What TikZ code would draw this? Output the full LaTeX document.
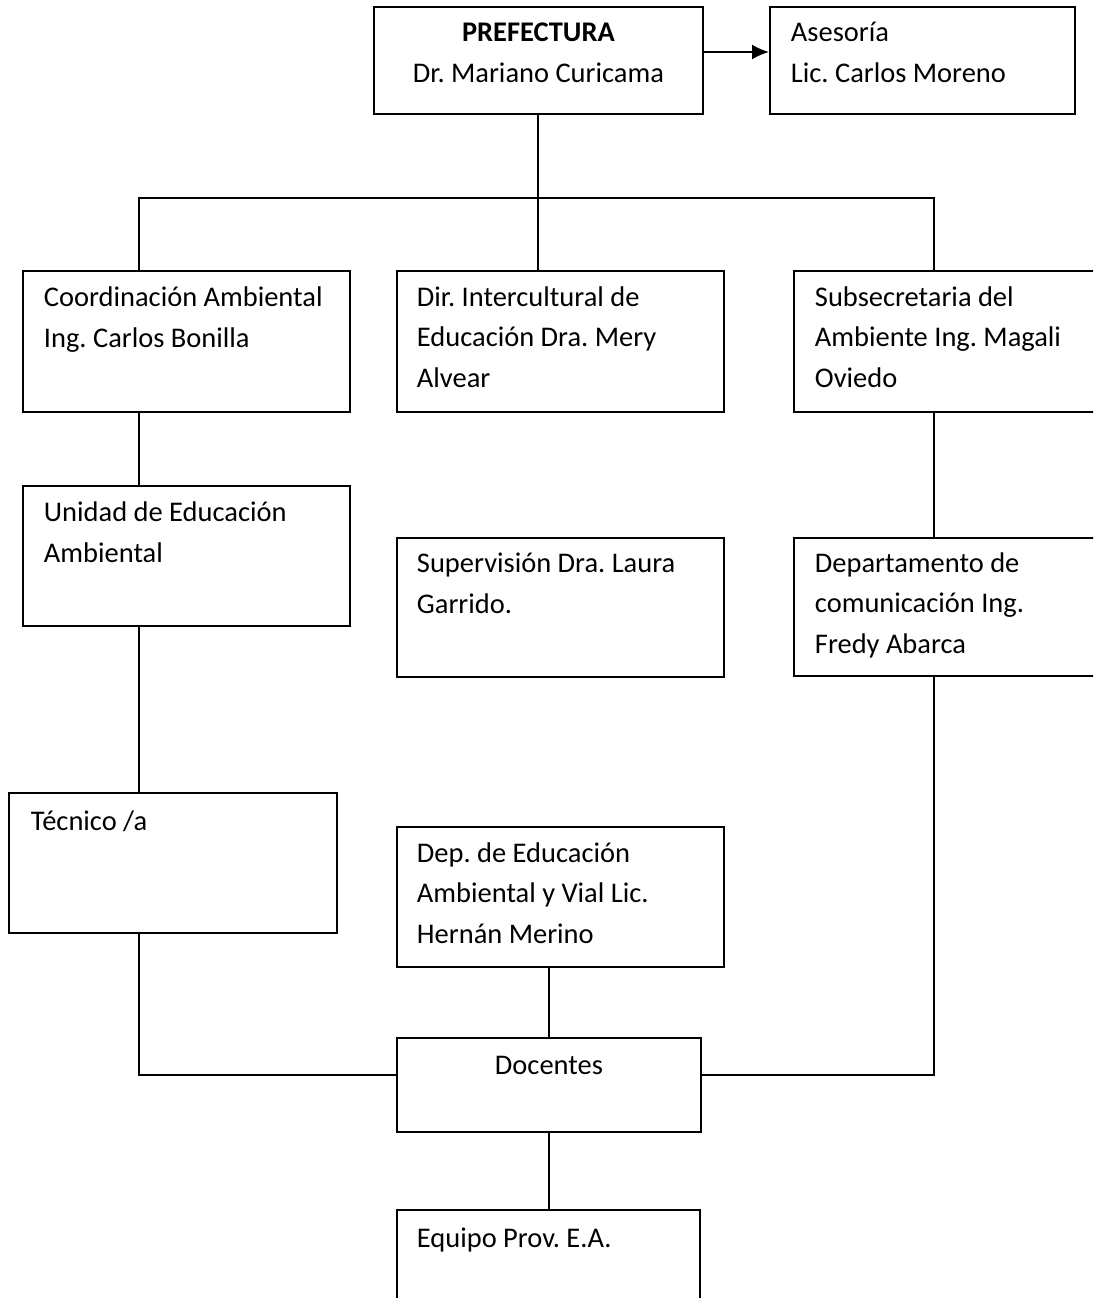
\documentclass[tikz,border=0pt]{standalone}
\usepackage{fontspec}
\setmainfont{Carlito}
\frenchspacing
\usepackage{tikz}
\usetikzlibrary{calc}
\usetikzlibrary{arrows.meta}

\begin{document}
\begin{tikzpicture}[
      x=0.02cm, y=-0.02cm,
      line width=1.1pt,
      caja/.style={draw, rectangle, anchor=north west, inner sep=0pt, minimum width=6.54cm, minimum height=2.8cm},
      texto/.style={anchor=base west, inner sep=0pt, align=left, font=\fontsize{16.2}{22.8}\selectfont},
      flecha/.style={-{Latex[length=0.34cm, width=0.3cm]}}
    ]
    \useasboundingbox (0,0) rectangle (1093,1298);
    \clip (0,0) rectangle (1093,1298);

    % Cajas
    \node[caja, minimum width=6.58cm, minimum height=2.14cm] (pref) at (373,6) {};
    \node[caja, minimum width=6.1cm, minimum height=2.14cm] (ases) at (769,6) {};
    \node[caja, minimum height=2.82cm] (coord) at (22,270) {};
    \node[caja, minimum height=2.82cm] (dir) at (396,270) {};
    \node[caja, minimum width=7cm, minimum height=2.82cm] (subse) at (793,270) {};
    \node[caja] (unidad) at (22,485) {};
    \node[caja, minimum height=2.78cm] (superv) at (396,537) {};
    \node[caja, minimum width=7cm, minimum height=2.76cm] (depto) at (793,537) {};
    \node[caja, minimum width=6.56cm] (tecnico) at (8,792) {};
    \node[caja] (depedu) at (396,826) {};
    \node[caja, minimum width=6.08cm, minimum height=1.88cm] (doc) at (396,1037) {};
    \node[caja, minimum width=6.06cm] (equipo) at (396,1209) {};

    % Textos (base = ultima linea)
    \node[texto, anchor=base, align=center] (pref-t) at ($(pref.north)+(0,76)$) {\textbf{PREFECTURA}\\Dr. Mariano Curicama};
    \node[texto] (ases-t) at ($(ases.north west)+(21,76)$) {Asesoría\\Lic. Carlos Moreno};
    \node[texto] (coord-t) at ($(coord.north west)+(21,77)$) {Coordinación Ambiental\\Ing. Carlos Bonilla};
    \node[texto] (dir-t) at ($(dir.north west)+(20,117)$) {Dir. Intercultural de\\Educación Dra. Mery\\Alvear};
    \node[texto] (subse-t) at ($(subse.north west)+(21,117)$) {Subsecretaria del\\Ambiente Ing. Magali\\Oviedo};
    \node[texto] (unidad-t) at ($(unidad.north west)+(21,77)$) {Unidad de Educación\\Ambiental};
    \node[texto] (superv-t) at ($(superv.north west)+(20,76)$) {Supervisión Dra. Laura\\Garrido.};
    \node[texto] (depto-t) at ($(depto.north west)+(21,116)$) {Departamento de\\comunicación Ing.\\Fredy Abarca};
    \node[texto] (tecnico-t) at ($(tecnico.north west)+(22,38)$) {Técnico /a};
    \node[texto] (depedu-t) at ($(depedu.north west)+(20,117)$) {Dep. de Educación\\Ambiental y Vial Lic.\\Hernán Merino};
    \node[texto, anchor=base] (doc-t) at ($(doc.north)+(0,37)$) {Docentes};
    \node[texto] (equipo-t) at ($(equipo.north west)+(20,38)$) {Equipo Prov. E.A.};

    % Conectores
    \coordinate (bus) at ($(pref.south)+(0,85)$);
    \coordinate (busI) at (139,198);
    \coordinate (busD) at (934,198);
    \coordinate (baseI) at (139,1075);
    \coordinate (baseD) at (934,1075);

    \draw[flecha] ($(pref.north east)+(0,46)$) -- ($(ases.north west)+(0,46)$);
    \draw (pref.south) -- (bus);
    \draw (busI |- coord.north) -- (busI) -- (busD) -- (busD |- subse.north);
    \draw (bus) -- (bus |- dir.north);
    \draw (busI |- coord.south) -- (busI |- unidad.north);
    \draw (busI |- unidad.south) -- (busI |- tecnico.north);
    \draw (busI |- tecnico.south) -- (baseI) -- (baseI -| doc.west);
    \draw (busD |- subse.south) -- (busD |- depto.north);
    \draw (busD |- depto.south) -- (baseD) -- (baseD -| doc.east);
    \draw (doc.north) -- (doc.north |- depedu.south);
    \draw (doc.south) -- (doc.south |- equipo.north);

  \end{tikzpicture}
\end{document}
